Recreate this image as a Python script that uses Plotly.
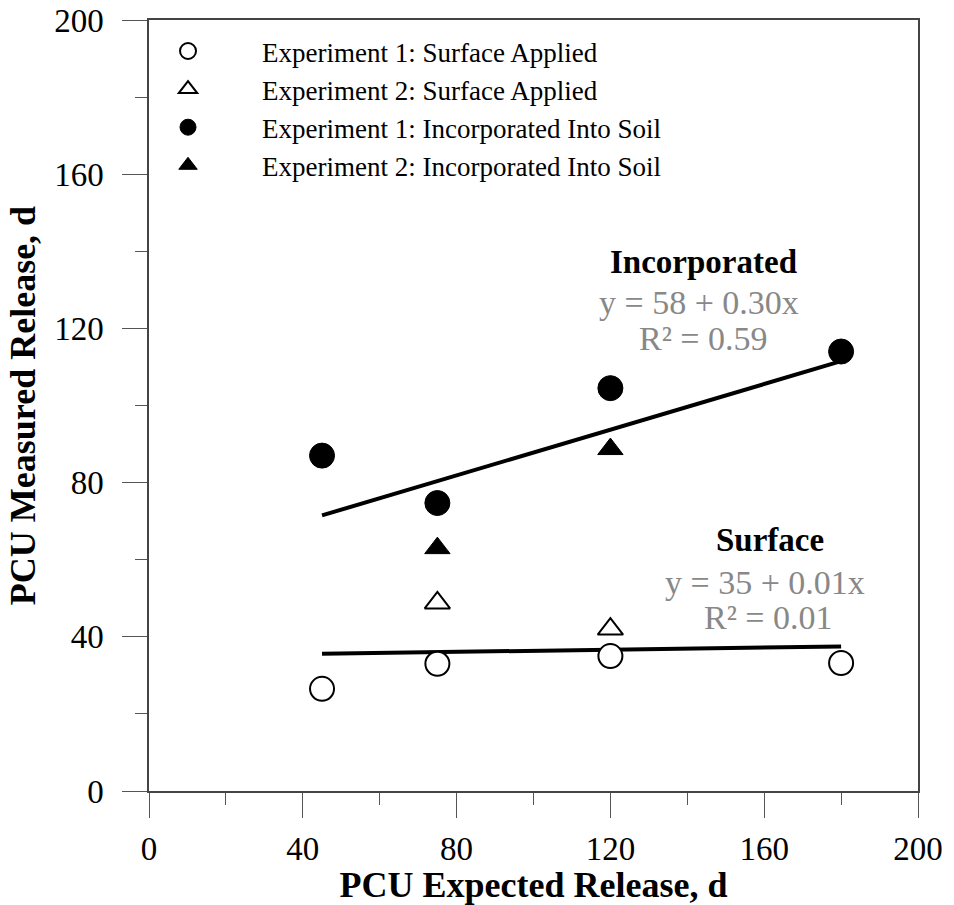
import plotly.graph_objects as go

# Data
exp1_surface_x = [45, 75, 120, 180]
exp1_surface_y = [26.5, 33, 35, 33.2]
exp2_surface_x = [75, 120]
exp2_surface_y = [48.8, 42]
exp1_incorp_x = [45, 75, 120, 180]
exp1_incorp_y = [87, 74.7, 104.5, 114]
exp2_incorp_x = [75, 120]
exp2_incorp_y = [63, 88.7]

fit_x = [45, 180]
fit_incorp_y = [71.5, 111.5]
fit_surface_y = [35.6, 37.5]

FONT = "Liberation Serif"

fig = go.Figure()
fig.add_trace(go.Scatter(x=fit_x, y=fit_incorp_y, mode="lines",
                         line=dict(color="black", width=4), showlegend=False, hoverinfo="skip"))
fig.add_trace(go.Scatter(x=fit_x, y=fit_surface_y, mode="lines",
                         line=dict(color="black", width=4), showlegend=False, hoverinfo="skip"))

common = dict(mode="markers")
fig.add_trace(go.Scatter(x=exp1_surface_x, y=exp1_surface_y, name="Experiment 1: Surface Applied",
                         marker=dict(symbol="circle", size=24, color="white",
                                     line=dict(color="black", width=2)), legendgroup="a", **common))
fig.add_trace(go.Scatter(x=exp2_surface_x, y=exp2_surface_y, name="Experiment 2: Surface Applied",
                         marker=dict(symbol="triangle-up", size=22, color="white",
                                     line=dict(color="black", width=2)), legendgroup="b", **common))
fig.add_trace(go.Scatter(x=exp1_incorp_x, y=exp1_incorp_y, name="Experiment 1: Incorporated Into Soil",
                         marker=dict(symbol="circle", size=25, color="black",
                                     line=dict(color="black", width=1)), legendgroup="c", **common))
fig.add_trace(go.Scatter(x=exp2_incorp_x, y=exp2_incorp_y, name="Experiment 2: Incorporated Into Soil",
                         marker=dict(symbol="triangle-up", size=22, color="black",
                                     line=dict(color="black", width=1)), legendgroup="d", **common))

axis_common = dict(
    range=[0, 200], dtick=40, showgrid=False, zeroline=False, automargin=False,
    showline=True, linecolor="#444", linewidth=1.5, mirror=True,
    ticks="outside", ticklen=25, tickwidth=1, tickcolor="#555",
    tickfont=dict(family=FONT, size=33, color="black"),
    minor=dict(dtick=20, ticks="outside", ticklen=12, tickwidth=1, tickcolor="#555"),
)

fig.update_xaxes(**axis_common, ticklabelstandoff=3,
                 title=dict(text="<b>PCU Expected Release, d</b>",
                            font=dict(family=FONT, size=36, color="black"), standoff=12))
fig.update_yaxes(**axis_common, ticklabelstandoff=12,
                 title=dict(text="<b>PCU Measured Release, d</b>",
                            font=dict(family=FONT, size=36, color="black"), standoff=8))

gray = "#888888"
annots = [
    (144.3, 137.2, "<b>Incorporated</b>", "black", 33),
    (143.0, 126.8, "y = 58 + 0.30x", gray, 34),
    (144.3, 117.5, "R² = 0.59", gray, 34),
    (161.5, 65.1, "<b>Surface</b>", "black", 33),
    (160.2, 54.2, "y = 35 + 0.01x", gray, 34),
    (161.0, 44.9, "R² = 0.01", gray, 34),
]
for x, y, t, c, s in annots:
    fig.add_annotation(x=x, y=y, text=t, showarrow=False, xanchor="center", yanchor="middle",
                       font=dict(family=FONT, size=s, color=c))

fig.update_layout(
    width=954, height=905,
    margin=dict(l=149, r=36, t=20, b=114),
    plot_bgcolor="white", paper_bgcolor="white",
    legend=dict(x=-0.0455, y=0.991, xanchor="left", yanchor="top",
                font=dict(family=FONT, size=27, color="black"),
                bgcolor="rgba(0,0,0,0)", traceorder="grouped", tracegroupgap=0,
                itemwidth=138, itemsizing="trace"),
)

fig.write_html("out.html")
